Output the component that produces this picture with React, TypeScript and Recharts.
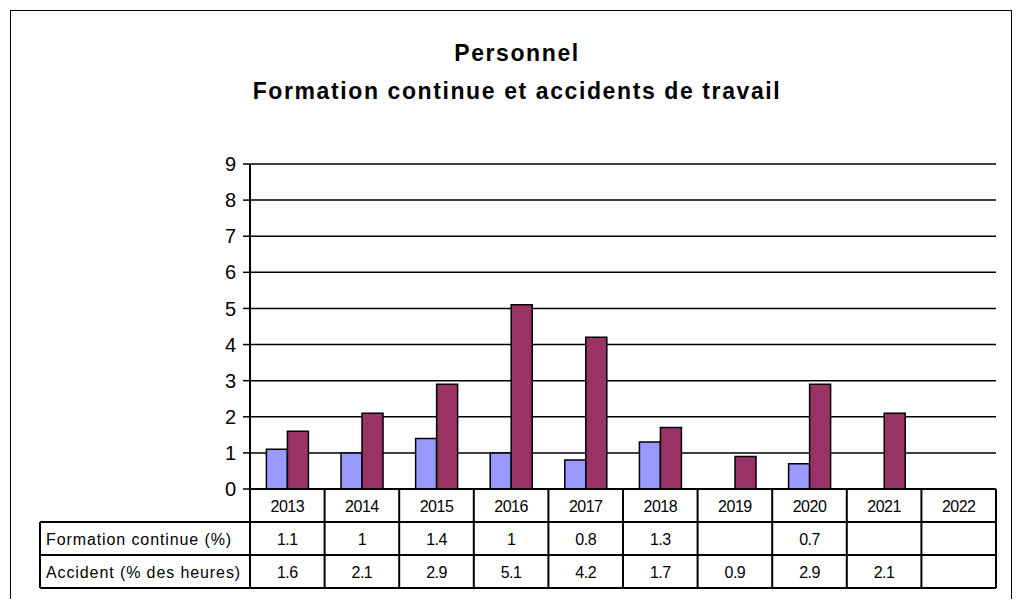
import React from 'react'
import { BarChart, Bar, XAxis, YAxis, CartesianGrid } from 'recharts'

const years = ['2013', '2014', '2015', '2016', '2017', '2018', '2019', '2020', '2021', '2022']
const formation: (number | null)[] = [1.1, 1, 1.4, 1, 0.8, 1.3, null, 0.7, null, null]
const accident: (number | null)[] = [1.6, 2.1, 2.9, 5.1, 4.2, 1.7, 0.9, 2.9, 2.1, null]
const yTicks = [0, 1, 2, 3, 4, 5, 6, 7, 8, 9]
const rowLabels = ['Formation continue (%)', 'Accident (% des heures)']

const data = years.map((year, i) => ({
  year,
  formation: formation[i],
  accident: accident[i],
}))

const W = 1020
const H = 607
const PLOT_LEFT = 250
const PLOT_RIGHT = 996
const PLOT_TOP = 164
const PLOT_BOTTOM = 489
const ROW_H = 33
const LABEL_LEFT = 40
const bandW = (PLOT_RIGHT - PLOT_LEFT) / years.length
const FONT = '"Liberation Sans", Arial, sans-serif'

function TableTick(props: any) {
  const { x, payload, index } = props
  const y0 = PLOT_BOTTOM
  const left = x - bandW / 2
  const right = x + bandW / 2
  const i = index as number
  const fmt = (v: number | null) => (v == null ? '' : String(v))
  const cells = [payload.value, fmt(formation[i]), fmt(accident[i])]
  return (
    <g>
      {cells.map((c, r) => (
        <text
          key={r}
          x={x}
          y={y0 + ROW_H * r + ROW_H / 2 + 6}
          textAnchor="middle"
          fontSize={16}
          letterSpacing={-0.5}
          fontFamily={FONT}
          fill="#000"
        >
          {c}
        </text>
      ))}
      <line x1={right} y1={y0} x2={right} y2={y0 + ROW_H * 3} stroke="#000" strokeWidth={2} />
      {i === 0 && (
        <g>
          <line x1={left} y1={y0} x2={left} y2={y0 + ROW_H * 3} stroke="#000" strokeWidth={2} />
          <line x1={LABEL_LEFT} y1={y0 + ROW_H} x2={PLOT_RIGHT} y2={y0 + ROW_H} stroke="#000" strokeWidth={2} />
          <line x1={LABEL_LEFT} y1={y0 + ROW_H * 2} x2={PLOT_RIGHT} y2={y0 + ROW_H * 2} stroke="#000" strokeWidth={2} />
          <line x1={LABEL_LEFT} y1={y0 + ROW_H * 3} x2={PLOT_RIGHT} y2={y0 + ROW_H * 3} stroke="#000" strokeWidth={2} />
          <line x1={LABEL_LEFT} y1={y0 + ROW_H} x2={LABEL_LEFT} y2={y0 + ROW_H * 3} stroke="#000" strokeWidth={2} />
          {rowLabels.map((l, r) => (
            <text
              key={l}
              x={LABEL_LEFT + 6}
              y={y0 + ROW_H * (r + 1) + ROW_H / 2 + 6}
              fontSize={16}
              letterSpacing={0.9}
              fontFamily={FONT}
              fill="#000"
            >
              {l}
            </text>
          ))}
        </g>
      )}
    </g>
  )
}

export default function App() {
  return (
    <div style={{ position: 'relative', width: W, height: H, margin: -8, background: '#fff', overflow: 'hidden' }}>
      <div
        style={{
          position: 'absolute',
          left: 10,
          top: 10,
          width: 1000,
          height: 620,
          border: '1px solid #000',
        }}
      />
      <div
        style={{
          position: 'absolute',
          left: 0,
          width: W,
          top: 34,
          paddingLeft: 14,
          boxSizing: 'border-box',
          textAlign: 'center',
          fontFamily: FONT,
          fontWeight: 'bold',
          fontSize: 23,
          letterSpacing: 1.6,
          lineHeight: '38px',
        }}
      >
        <div>Personnel</div>
        <div>Formation continue et accidents de travail</div>
      </div>
      <div style={{ position: 'absolute', left: 0, top: 0 }}>
        <BarChart
          width={W}
          height={H}
          data={data}
          margin={{ top: PLOT_TOP, right: W - PLOT_RIGHT, bottom: H - PLOT_BOTTOM - 99, left: PLOT_LEFT - 60 }}
          barCategoryGap="22%"
          barGap={0}
        >
          <CartesianGrid vertical={false} stroke="#000" strokeWidth={1.5} />
          <XAxis
            dataKey="year"
            height={99}
            interval={0}
            tickLine={false}
            tickSize={0}
            tickMargin={0}
            axisLine={{ stroke: '#000', strokeWidth: 2 }}
            tick={<TableTick />}
          />
          <YAxis
            width={60}
            domain={[0, 9]}
            ticks={yTicks}
            interval={0}
            tickSize={7}
            tickMargin={7}
            axisLine={{ stroke: '#000', strokeWidth: 2 }}
            tickLine={{ stroke: '#000', strokeWidth: 1.5 }}
            tick={{ fill: '#000', fontSize: 20, fontFamily: FONT }}
          />
          <Bar dataKey="formation" fill="#9999FF" stroke="#000" strokeWidth={1.5} isAnimationActive={false} />
          <Bar dataKey="accident" fill="#993366" stroke="#000" strokeWidth={1.5} isAnimationActive={false} />
        </BarChart>
      </div>
    </div>
  )
}
